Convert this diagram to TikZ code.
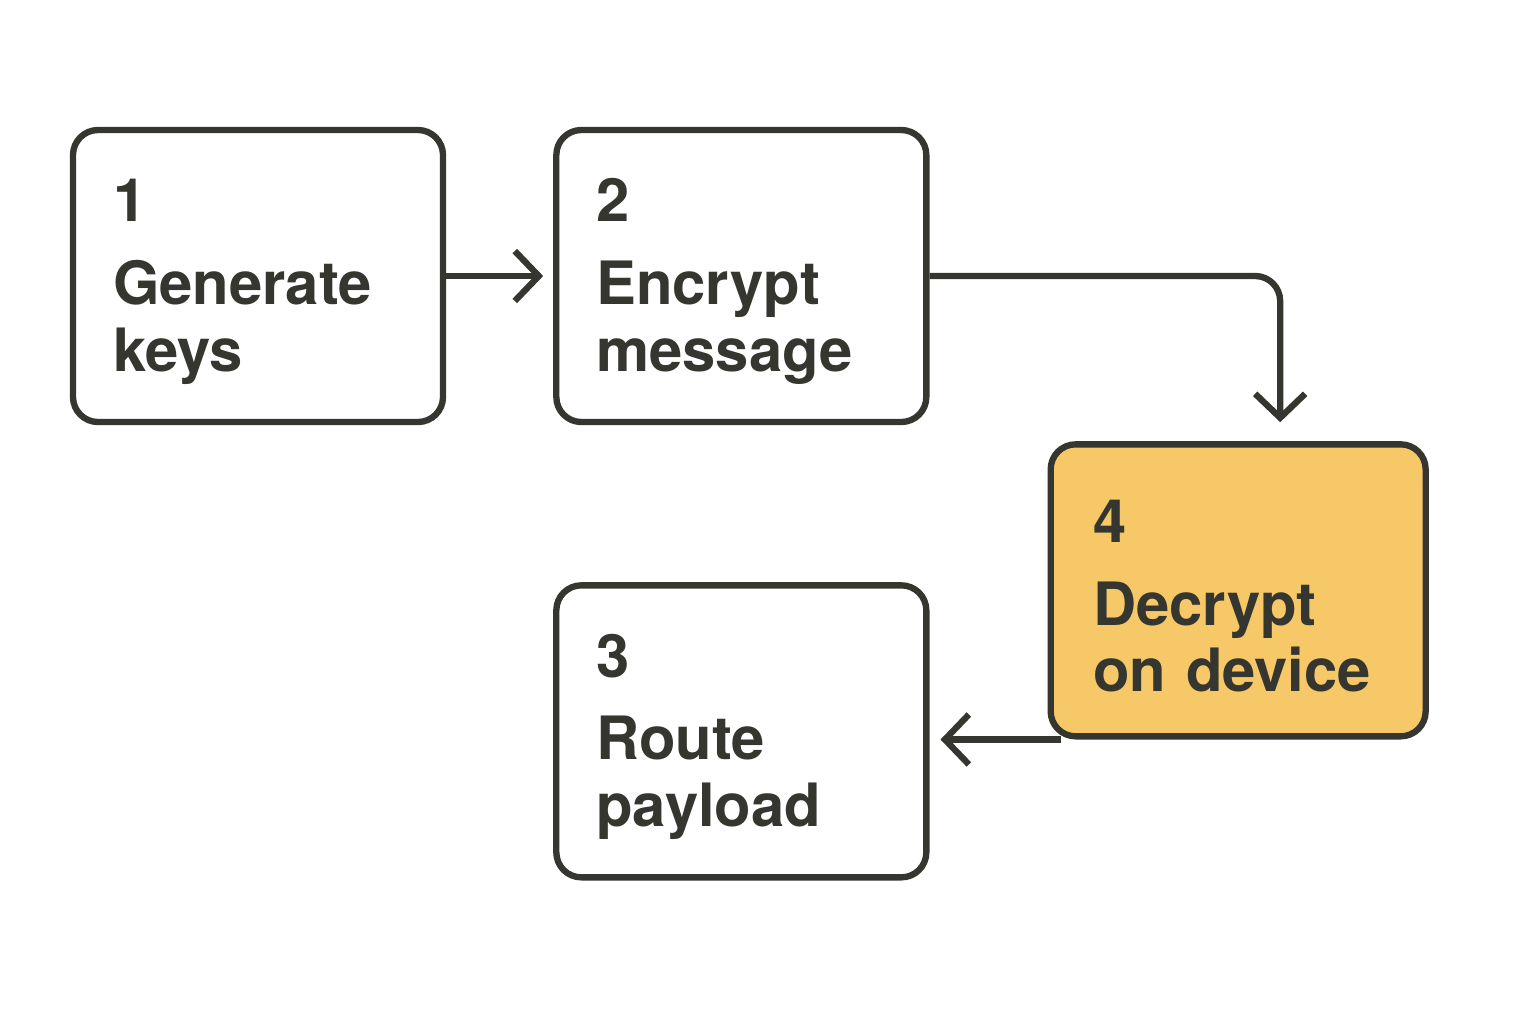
\documentclass[tikz,border=0pt]{standalone}
\usepackage{fontspec}
\setmainfont{TeX Gyre Heros}
\usetikzlibrary{positioning, arrows.meta}

\definecolor{inkline}{HTML}{34362F}
\definecolor{decfill}{HTML}{F6C868}

% number on top, two words below
\newcommand{\steptext}[3]{\rule{0pt}{0.54cm}#1\\[0.16cm]#2\\#3}

\begin{document}
\begin{tikzpicture}[
    stepbox/.style={draw=inkline, line width=1.8pt, rounded corners=0.25cm, fill=white,
      minimum width=3.7cm, minimum height=2.92cm, text width=2.9cm, inner xsep=0.4cm,
      align=left, text=inkline, font=\fontsize{17}{19}\selectfont\bfseries},
    flow/.style={draw=inkline, line width=1.8pt, rounded corners=0.25cm,
      -{Straight Barb[length=0.24cm, width=0.5cm, line width=1.8pt]}}
  ]
  \useasboundingbox (0,0) rectangle (15.36,-10.24);

  \node[stepbox] (gen) at (2.58,-2.76) {\steptext{1}{Generate}{keys}};
  \node[stepbox, right=1.07cm of gen] (enc) {\steptext{2}{Encrypt}{message}};
  \node[stepbox, below=1.57cm of enc] (route) {\steptext{3}{Route}{payload}};
  \node[stepbox, anchor=north west, fill=decfill, minimum width=3.75cm]
    (dec) at ([xshift=1.18cm, yshift=-0.16cm]enc.south east) {\steptext{4}{Decrypt}{on device}};

  \coordinate (decin) at ([shift={(0.42cm,0.19cm)}]dec.north);
  \coordinate (decout) at ([xshift=0.13cm]dec.south west);

  \draw[flow] (gen.east) -- ([xshift=-0.10cm]enc.west);
  \draw[flow] (enc.east) -| (decin);
  \draw[flow] (decout) -- ([xshift=0.11cm]route.east |- decout);

\end{tikzpicture}
\end{document}
